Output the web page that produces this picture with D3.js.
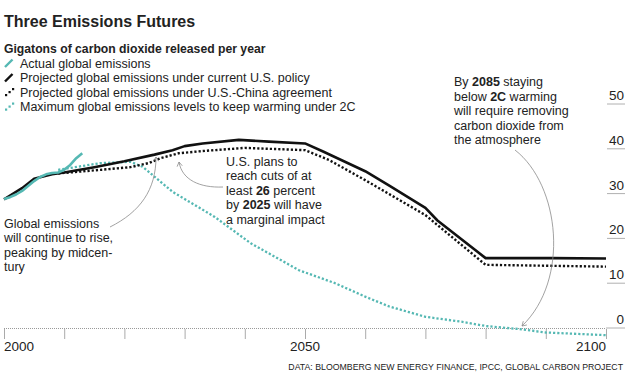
<!DOCTYPE html>
<html lang="en">
<head>
  <meta charset="UTF-8" />
  <title>Three Emissions Futures</title>
  <script src="https://d3js.org/d3.v7.min.js"></script>
  <style>
    body {
      margin: 0;
      background: #fff;
      font-family: 'Liberation Sans', Arial, sans-serif;
    }
    svg text { fill: #222; }
    .ann { font-size: 12.5px; }
    .ann .b { font-weight: bold; }
    .arrow { fill: none; stroke: #8a8a8a; stroke-width: 0.8px; }
  </style>
</head>
<body>
<svg width="630" height="385"></svg>

<script>
  // actual global emissions, Gt CO2
  const actualYears  = [2000, 2001, 2002, 2003, 2004, 2005, 2006, 2007, 2008, 2009, 2010, 2011, 2012, 2013];
  const actualValues = [28.8, 29.2, 29.8, 30.6, 31.7, 32.8, 33.7, 34.3, 34.6, 34.7, 35.3, 36.4, 37.9, 39.0];

  // projected under current U.S. policy
  const policyYears  = [2000, 2003, 2005, 2008, 2010, 2015, 2020, 2025, 2028, 2030, 2033, 2039, 2044, 2050, 2053, 2060, 2064, 2070, 2072, 2080, 2091, 2100];
  const policyValues = [28.7, 31.2, 33.3, 34.3, 34.7, 35.9, 37.2, 38.7, 39.7, 40.6, 41.2, 42.0, 41.6, 41.2, 39.4, 35.0, 31.8, 26.8, 24.0, 15.6, 15.6, 15.5];

  // projected under U.S.-China agreement
  const chinaYears  = [2009, 2016, 2021, 2024, 2026, 2029, 2033, 2040, 2050, 2054, 2060, 2070, 2080, 2100];
  const chinaValues = [34.5, 35.3, 35.9, 36.8, 37.9, 39.0, 39.5, 40.2, 39.7, 37.5, 33.0, 25.2, 14.1, 13.7];

  // maximum emissions to keep warming under 2C
  const maxYears  = [2009, 2016, 2021, 2023, 2024, 2028, 2035, 2041, 2049, 2055, 2060, 2064, 2070, 2076, 2080, 2086, 2090, 2100];
  const maxValues = [35.3, 36.8, 37.1, 36.0, 34.9, 30.4, 24.8, 18.9, 12.9, 10.0, 7.0, 4.8, 2.5, 1.4, 0.45, -0.3, -1.0, -1.6];

  const xTicks = [2000, 2010, 2020, 2030, 2040, 2050, 2060, 2070, 2080, 2090, 2100];
  const xLabels = [2000, 2050, 2100];
  const yTicks = [0, 10, 20, 30, 40, 50];

  const legendItems = [
    "Actual global emissions",
    "Projected global emissions under current U.S. policy",
    "Projected global emissions under U.S.-China agreement",
    "Maximum global emissions levels to keep warming under 2C"
  ];

  const teal = "#55b8b3";
  const svg = d3.select("svg");

  const x = d3.scaleLinear().domain([2000, 2100]).range([4, 606]);
  const y = d3.scaleLinear().domain([0, 50]).range([328, 104]);

  // title + subtitle
  svg.append("text").attr("x", 4).attr("y", 27)
    .style("font-size", "16px").style("font-weight", "bold")
    .text("Three Emissions Futures");
  svg.append("text").attr("x", 4).attr("y", 53)
    .style("font-size", "12.2px").style("font-weight", "bold")
    .text("Gigatons of carbon dioxide released per year");

  // legend
  const legend = svg.append("g");
  legendItems.forEach((t, i) => {
    const by = 67.5 + i * 14.5;
    legend.append("text").attr("x", 20).attr("y", by)
      .style("font-size", "12.5px").text(t);
    const col = (i === 0 || i === 3) ? teal : "#111";
    if (i < 2) {
      legend.append("line")
        .attr("x1", 5).attr("y1", by - 0.5).attr("x2", 12.5).attr("y2", by - 8)
        .attr("stroke", col).attr("stroke-width", 2.4);
    } else {
      [[6, by - 1.5], [9.5, by - 4.5], [13, by - 7.5]].forEach(p => {
        legend.append("rect").attr("x", p[0] - 1).attr("y", p[1] - 1)
          .attr("width", 2.2).attr("height", 2.2).attr("fill", col);
      });
    }
  });

  // y gridline stubs and labels (right side)
  const yAxis = svg.append("g");
  yTicks.forEach(v => {
    yAxis.append("line")
      .attr("x1", v === 0 ? 606 : 607).attr("x2", 625)
      .attr("y1", y(v)).attr("y2", y(v))
      .attr("stroke", "#b0b0b0").attr("stroke-width", 1);
    yAxis.append("text")
      .attr("x", 624).attr("y", y(v) - 4)
      .attr("text-anchor", "end")
      .style("font-size", "13.5px")
      .text(v);
  });

  // x axis: dotted baseline, decade ticks
  const xAxis = svg.append("g");
  xAxis.append("line")
    .attr("x1", x(2000)).attr("x2", x(2100))
    .attr("y1", y(0) + 0.5).attr("y2", y(0) + 0.5)
    .attr("stroke", "#999").attr("stroke-width", 1)
    .attr("stroke-dasharray", "1,1");
  xTicks.forEach(t => {
    xAxis.append("line")
      .attr("x1", x(t) + 0.5).attr("x2", x(t) + 0.5)
      .attr("y1", y(0) + 1).attr("y2", y(0) + 11)
      .attr("stroke", "#aaa").attr("stroke-width", 1);
  });
  xLabels.forEach((t, i) => {
    xAxis.append("text")
      .attr("x", x(t)).attr("y", 351)
      .attr("text-anchor", i === 0 ? "start" : (i === 1 ? "middle" : "end"))
      .style("font-size", "13.5px")
      .text(t);
  });

  // lines
  const line = d3.line().x(d => x(d[0])).y(d => y(d[1]));
  const zip = (a, b) => a.map((v, i) => [v, b[i]]);

  svg.append("path").datum(zip(maxYears, maxValues))
    .attr("d", line).attr("fill", "none")
    .attr("stroke", teal).attr("stroke-width", 2.3)
    .attr("stroke-dasharray", "2.2,2");

  svg.append("path").datum(zip(chinaYears, chinaValues))
    .attr("d", line).attr("fill", "none")
    .attr("stroke", "#111").attr("stroke-width", 2.4)
    .attr("stroke-dasharray", "2.2,2");

  svg.append("path").datum(zip(policyYears, policyValues))
    .attr("d", line).attr("fill", "none")
    .attr("stroke", "#111").attr("stroke-width", 2.6)
    .attr("stroke-linejoin", "round");

  svg.append("path").datum(zip(actualYears, actualValues))
    .attr("d", line).attr("fill", "none")
    .attr("stroke", teal).attr("stroke-width", 2.6)
    .attr("stroke-linejoin", "round");

  // annotations
  function annotate(x0, y0, lines) {
    const t = svg.append("text").attr("class", "ann");
    lines.forEach((parts, i) => {
      const row = t.append("tspan").attr("x", x0).attr("y", y0 + i * 14.5);
      parts.forEach(p => {
        const s = row.append("tspan").text(p[0]);
        if (p[1]) s.attr("class", "b");
      });
    });
  }

  annotate(4, 227.5, [
    [["Global emissions"]],
    [["will continue to rise,"]],
    [["peaking by midcen-"]],
    [["tury"]]
  ]);
  annotate(226, 165.5, [
    [["U.S. plans to"]],
    [["reach cuts of at"]],
    [["least "], ["26", true], [" percent"]],
    [["by "], ["2025", true], [" will have"]],
    [["a marginal impact"]]
  ]);
  annotate(454, 86, [
    [["By "], ["2085", true], [" staying"]],
    [["below "], ["2C", true], [" warming"]],
    [["will require removing"]],
    [["carbon dioxide from"]],
    [["the atmosphere"]]
  ]);

  // arrows: [start, c1, c2, end]
  const arrows = [
    [[110, 227], [140, 212], [156, 190], [156, 157]],
    [[223, 187], [200, 188], [182, 180], [179, 162]],
    [[515, 150], [560, 185], [570, 280], [522, 326]]
  ];
  arrows.forEach(a => {
    const p = d3.path();
    p.moveTo(a[0][0], a[0][1]);
    p.bezierCurveTo(a[1][0], a[1][1], a[2][0], a[2][1], a[3][0], a[3][1]);
    svg.append("path").attr("class", "arrow").attr("d", p.toString());
    const ang = Math.atan2(a[3][1] - a[2][1], a[3][0] - a[2][0]);
    const L = 5;
    const head = d3.path();
    head.moveTo(a[3][0] - L * Math.cos(ang - 0.55), a[3][1] - L * Math.sin(ang - 0.55));
    head.lineTo(a[3][0], a[3][1]);
    head.lineTo(a[3][0] - L * Math.cos(ang + 0.55), a[3][1] - L * Math.sin(ang + 0.55));
    svg.append("path").attr("class", "arrow").attr("d", head.toString());
  });

  // source
  svg.append("text")
    .attr("x", 623).attr("y", 370)
    .attr("text-anchor", "end")
    .style("font-size", "8.75px")
    .text("DATA: BLOOMBERG NEW ENERGY FINANCE,  IPCC, GLOBAL CARBON PROJECT");
</script>
</body>
</html>
